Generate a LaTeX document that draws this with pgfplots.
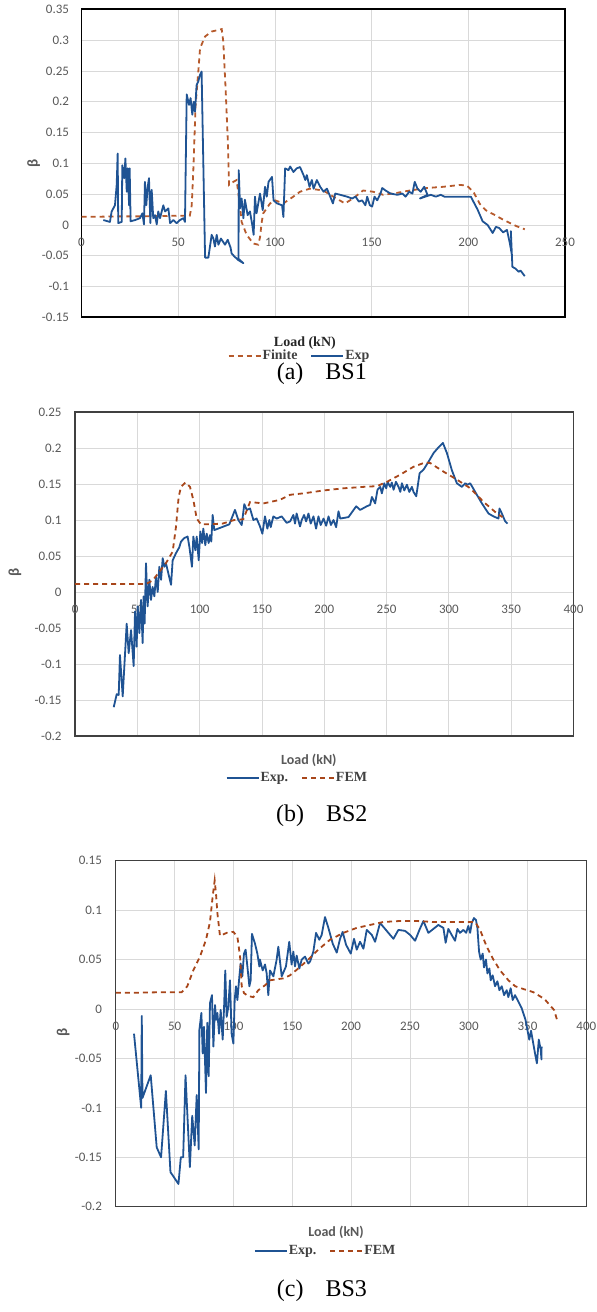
\documentclass[border=0pt]{standalone}
\usepackage{fontspec}
\setmainfont{Liberation Serif}
\newfontfamily\carlito{Carlito}
\usepackage{pgfplots}
\pgfplotsset{compat=1.18}

\definecolor{expc}{HTML}{1F5393}
\definecolor{femc}{HTML}{A8461A}
\definecolor{fina}{HTML}{B65A2C}
\definecolor{gridc}{HTML}{D9D9D9}
\definecolor{tickc}{HTML}{595959}
\definecolor{framec}{HTML}{404040}
\definecolor{legc}{HTML}{404040}

\newcommand\tickf{\carlito\fontsize{13}{15}\selectfont}
\newcommand\legf{\bfseries\fontsize{14}{16}\selectfont}
\newcommand\xlabf{\carlito\bfseries\fontsize{14}{16}\selectfont}
\newcommand\capf{\fontsize{24}{28}\selectfont}

\pgfplotsset{
  bs/.style={
    scale only axis, anchor=north west, xmin=0,
    grid=major, major grid style={draw=gridc, line width=0.8pt},
    major tick length=0pt,
    axis line style={draw=framec, line width=1.2pt},
    tick label style={font=\tickf, text=tickc},
    /pgf/number format/assume math mode=true,
    /pgf/number format/.cd, fixed, precision=2, /pgfplots/.cd,
    scaled ticks=false,
    y tick label style={anchor=east},
    x tick label style={anchor=center},
    ylabel={β}, ylabel style={font=\carlito\bfseries\fontsize{15}{17}\selectfont, text=tickc, anchor=center},
    xlabel={Load (kN)}, xlabel style={font=\xlabf, text=tickc, anchor=center},
    title style={font=\capf, text=black, anchor=center},
    legend style={draw=none, fill=none, font=\legf, text=legc, anchor=center,
      legend columns=2, column sep=0pt, nodes={inner xsep=1pt},
      /tikz/every even column/.append style={column sep=12pt}},
    legend image code/.code={\draw[##1] (0pt,0pt) -- (32pt,0pt);},
  },
  expl/.style={draw=expc, line width=1.8pt, line join=round, no markers},
  feml/.style={draw=femc, line width=1.8pt, dash pattern=on 5pt off 4pt, no markers},
}

\begin{document}
\begin{tikzpicture}
\path[use as bounding box] (0pt,0pt) rectangle (597pt,1312pt);

% (a) BS1
\begin{axis}[bs,
  at={(81.5pt,1302.6pt)}, width=483.5pt, height=308pt,
  xmax=250, ymin=-0.15, ymax=0.35,
  xtick={0,50,...,250},
  ytick={-0.15,-0.1,-0.05,0,0.05,0.1,0.15,0.2,0.25,0.3,0.35},
  axis line style={draw=black, line width=1.8pt},
  x tick label style={yshift=75pt},
  y tick label style={xshift=-9pt},
  ylabel style={at={(axis description cs:-0.099,0.5)}},
  xlabel style={at={(axis description cs:0.462,-0.083)}, font=\bfseries\fontsize{14}{16}\selectfont, text=black!85},
  legend style={at={(axis description cs:0.45,-0.125)}},
  title={(a)\hspace{22pt}BS1}, title style={at={(axis description cs:0.497,-0.203)}},
]
\addplot[feml, draw=fina] coordinates {
(0,0.0135)(10,0.0135)(20,0.014)(30,0.014)(40,0.0145)(50,0.015)(56,0.015)(57,0.032)(57.8,0.087)(59,0.195)
(60.4,0.249)(61.3,0.287)(63.9,0.306)(67.3,0.314)(72.5,0.318)(73.3,0.298)(74.5,0.222)(75.6,0.141)(76.3,0.065)
(78.5,0.070)(80.2,0.073)(81.9,0.032)(82.8,0.005)(85.4,-0.016)(88.8,-0.030)(91.4,-0.032)(92.3,-0.020)(93.2,0.005)
(94.0,0.019)(97.5,0.035)(100.1,0.040)(104.4,0.035)(109.5,0.046)(113,0.054)(118.1,0.059)(125,0.056)(130.2,0.046)
(136.2,0.035)(140.4,0.043)(145.6,0.056)(150.8,0.054)(156,0.049)(162.9,0.052)(169.8,0.056)(178.5,0.060)
(187.1,0.062)(195.7,0.065)(199.2,0.064)(202.6,0.054)(206,0.034)(209,0.024)(213.8,0.016)(217.8,0.009)
(221.6,0.003)(225,-0.002)(229.2,-0.007)
};
\addlegendentry{Finite}
\addplot[expl] coordinates {
(11.3,0.008)(14.7,0.005)(15.6,0.022)(17.3,0.032)(18.2,0.065)(18.7,0.116)(19.0,0.003)(20.8,0.005)(21.1,0.097)
(22.1,0.076)(22.7,0.108)(23.4,0.054)(23.9,0.092)(24.6,0.032)(24.9,0.092)(25.4,0.006)(27.7,0.008)(30.2,0.011)
(31.5,0.019)(32.3,0.001)(32.8,0.070)(33.5,0.032)(34.2,0.061)(34.9,0.076)(35.6,0.003)(36.3,0.057)(37.1,0.011)
(38.0,0.016)(38.9,0.001)(39.7,0.022)(40.6,0.011)(42.3,0.032)(43.2,0.022)(44.9,0.027)(45.8,0.003)(47.5,0.008)
(49.2,0.003)(50.9,0.008)(52.7,0.011)(53.5,0.005)(54.4,0.212)(55.6,0.195)(56.4,0.206)(57.3,0.179)(58.0,0.200)
(58.7,0.184)(59.5,0.227)(60.4,0.233)(61.3,0.244)(62.1,0.249)(63.9,-0.053)(65.6,-0.053)(67.3,-0.016)(68.2,-0.022)
(69.0,-0.035)(69.9,-0.016)(70.8,-0.032)(72.1,-0.022)(74.2,-0.032)(75.6,-0.024)(77.1,-0.037)(77.6,-0.046)
(79.0,-0.051)(81.1,-0.057)(83.7,-0.062)(81.2,-0.055)(81.3,0.089)(82.0,0.027)(82.8,0.043)(83.7,0.011)(84.5,0.041)
(85.9,0.016)(87.1,0.022)(88.3,0.0)(89.0,-0.016)(89.7,0.046)(90.5,0.019)(92.3,0.051)(93.7,0.024)(94.9,0.062)
(95.8,0.046)(96.7,0.070)(98.5,0.078)(99.3,0.040)(101.1,0.035)(103.7,0.032)(104.4,0.013)(105.3,0.092)(107.0,0.089)
(107.9,0.095)(109.6,0.086)(111.3,0.092)(113.0,0.094)(114.8,0.081)(115.7,0.073)(116.5,0.081)(117.9,0.062)
(119.1,0.073)(120.0,0.059)(121.7,0.073)(123.4,0.062)(125.2,0.054)(126.9,0.059)(128.6,0.046)(130.0,0.035)
(131.2,0.051)(133.8,0.049)(137.3,0.046)(139.9,0.043)(141.7,0.046)(143.4,0.038)(145.1,0.040)(146.8,0.032)
(147.7,0.046)(149.1,0.032)(150.3,0.030)(151.5,0.046)(152.9,0.040)(154.6,0.051)(155.5,0.060)(157.2,0.056)
(159.8,0.051)(163.3,0.049)(165.9,0.051)(167.6,0.046)(169.4,0.054)(171.1,0.051)(172.3,0.070)(173.7,0.059)
(175.4,0.054)(177.2,0.062)(178.9,0.049)(175,0.043)(180.6,0.049)(183.2,0.046)(185.8,0.049)(187.6,0.046)
(191.0,0.046)(196.2,0.046)(201.3,0.046)(204.8,0.025)(207.4,0.006)(210,0.0)(212.6,-0.013)(214.3,-0.003)
(216,-0.005)(218,-0.012)(220,-0.008)(221.5,-0.030)(222.5,-0.048)(222,-0.010)(222.8,-0.068)(224.5,-0.071)
(226,-0.076)(227,-0.074)(229.2,-0.083)
};
\addlegendentry{Exp}
\end{axis}

% (b) BS2
\begin{axis}[bs,
  at={(75.1pt,900pt)}, width=498.4pt, height=324pt,
  xmax=400, ymin=-0.2, ymax=0.25,
  xtick={0,50,...,400},
  ytick={-0.2,-0.15,-0.1,-0.05,0,0.05,0.1,0.15,0.2,0.25},
  x tick label style={yshift=127pt},
  y tick label style={xshift=-10pt},
  ylabel style={at={(axis description cs:-0.121,0.506)}},
  xlabel style={at={(axis description cs:0.469,-0.074)}},
  legend style={at={(axis description cs:0.445,-0.130)}},
  title={(b)\hspace{22pt}BS2}, title style={at={(axis description cs:0.495,-0.265)}},
]
\addplot[expl] coordinates {
(31.0,-0.160)(33.4,-0.142)(35.0,-0.143)(36.0,-0.0875)(38.2,-0.145)(41.4,-0.044)(43.0,-0.085)(44.9,-0.053)
(47.0,-0.103)(48.1,-0.027)(49.4,-0.076)(50.2,-0.020)(51.6,-0.057)(52.9,-0.011)(54.2,-0.071)(55.0,-0.006)
(55.8,-0.044)(56.9,0.040)(58.2,-0.020)(59.6,0.017)(60.9,-0.011)(62.2,0.007)(63.6,-0.006)(64.9,0.021)(66.3,0.0)
(67.6,0.035)(69.0,0.017)(70.3,0.047)(71.6,0.035)(72.9,0.040)(77.0,0.010)(78.3,0.044)(81.0,0.054)(83.6,0.062)
(85.0,0.070)(87.7,0.075)(90.3,0.077)(91.7,0.063)(93.8,0.035)(94.9,0.077)(96.5,0.058)(97.6,0.077)(99.2,0.044)
(100.5,0.084)(101.9,0.068)(102.9,0.088)(104.5,0.065)(105.6,0.081)(107.2,0.068)(108.3,0.079)(109.3,0.070)
(110.4,0.107)(111.7,0.086)(123.8,0.094)(128.3,0.114)(131,0.100)(133.7,0.093)(135.8,0.122)(137.7,0.114)
(140.4,0.116)(143.1,0.100)(145.7,0.102)(148.4,0.091)(150.3,0.081)(152.4,0.105)(154.3,0.088)(155.9,0.100)
(157.0,0.090)(159.1,0.105)(161.8,0.102)(165.8,0.105)(169.8,0.096)(172.5,0.098)(175.2,0.107)(176.5,0.095)
(177.8,0.109)(180.5,0.091)(181.9,0.100)(183.8,0.107)(185.4,0.098)(187.3,0.109)(189.1,0.095)(191.3,0.105)
(193.4,0.088)(195.3,0.105)(197.1,0.093)(199.4,0.102)(201.5,0.092)(203.4,0.105)(205.3,0.093)(207.4,0.100)
(209.5,0.090)(211.4,0.112)(212.8,0.102)(219.4,0.104)(225.6,0.119)(228.8,0.114)(234.1,0.119)(236.8,0.121)
(238.2,0.132)(240.8,0.123)(242.7,0.142)(244.9,0.146)(246.2,0.137)(248.1,0.151)(249.7,0.144)(250.8,0.153)
(252.9,0.146)(254.2,0.152)(255.6,0.142)(257.5,0.153)(259.6,0.146)(261,0.139)(262.3,0.151)(264.2,0.141)
(266.3,0.149)(268.2,0.139)(270.3,0.146)(271.6,0.139)(273.8,0.133)(276.5,0.165)(279.7,0.170)(283.7,0.181)
(287.7,0.193)(291.7,0.201)(295.2,0.207)(298.4,0.193)(302.4,0.169)(306.4,0.151)(310.4,0.146)(313.1,0.151)
(315,0.149)(317.1,0.151)(321.1,0.139)(326.5,0.123)(331.8,0.109)(335.8,0.105)(339.8,0.102)(340.6,0.116)
(342.5,0.109)(345.2,0.098)(347,0.095)
};
\addlegendentry{Exp.}
\addplot[feml] coordinates {
(0,0.011)(20,0.011)(40,0.011)(56.9,0.011)(62.2,0.016)(67.6,0.028)(72.9,0.040)(78.3,0.056)(81.0,0.091)
(83.1,0.132)(85.0,0.146)(88.5,0.152)(92.2,0.146)(94.9,0.128)(97.6,0.102)(101.0,0.094)(107.7,0.094)
(118.4,0.095)(127.8,0.100)(135,0.101)(140.4,0.125)(151.1,0.123)(164.5,0.128)(172.6,0.135)(183.3,0.137)
(199.4,0.141)(215.4,0.144)(231.5,0.146)(242.2,0.147)(250.3,0.153)(261,0.163)(271.7,0.174)(281.1,0.180)
(285.1,0.179)(295.8,0.167)(306.5,0.156)(317.2,0.144)(327.9,0.125)(338.6,0.109)(343,0.104)
};
\addlegendentry{FEM}
\end{axis}

% (c) BS3
\begin{axis}[bs,
  at={(115.9pt,451.3pt)}, width=470.4pt, height=346pt,
  xmax=400, ymin=-0.2, ymax=0.15,
  xtick={0,50,...,400},
  ytick={-0.2,-0.15,-0.1,-0.05,0,0.05,0.1,0.15},
  x tick label style={yshift=180pt},
  y tick label style={xshift=-10.5pt},
  ylabel style={at={(axis description cs:-0.112,0.505)}},
  xlabel style={at={(axis description cs:0.468,-0.073)}},
  legend style={at={(axis description cs:0.445,-0.128)}},
  title={(c)\hspace{22pt}BS3}, title style={at={(axis description cs:0.438,-0.261)}},
]
\addplot[expl] coordinates {
(15.4,-0.025)(21.5,-0.100)(22.0,-0.007)(22.6,-0.090)(29.6,-0.067)(34.7,-0.140)(38.4,-0.150)(42.5,-0.083)
(46.4,-0.165)(53.2,-0.177)(55.2,-0.150)(57.2,-0.150)(59.2,-0.067)(62.9,-0.160)(64.9,-0.108)(67.0,-0.138)
(68.7,-0.087)(70.4,-0.142)(71.0,-0.021)(72.7,-0.004)(73.8,-0.045)(74.9,-0.018)(76.6,-0.085)(77.7,-0.014)
(78.9,-0.068)(80.0,0.006)(81.7,0.014)(82.9,-0.038)(84.3,0.004)(85.2,-0.011)(86.3,-0.004)(87.7,-0.025)
(89.1,-0.001)(90.8,-0.031)(92.0,0.002)(93.0,0.039)(94.2,-0.008)(95.6,0.002)(97.0,0.029)(98.4,-0.025)
(99.9,-0.035)(101.0,0.009)(102.1,0.023)(103.3,0.009)(105.0,0.033)(106.1,0.046)(107.5,0.033)(108.9,0.056)
(110.3,0.060)(111.8,0.043)(113.5,0.023)(114.6,0.029)(115.7,0.076)(118.3,0.066)(120.3,0.056)(122.0,0.043)
(122.5,0.050)(124.8,0.039)(126.8,0.045)(128.2,0.036)(129.6,0.014)(131.0,0.039)(133.9,0.033)(136.7,0.050)
(138.1,0.063)(141.0,0.033)(144.6,0.043)(147.4,0.068)(149.4,0.045)(150.9,0.058)(152.3,0.043)(153.7,0.054)
(156.0,0.041)(158.0,0.050)(160.8,0.053)(163.6,0.046)(165.1,0.048)(167.9,0.058)(170.2,0.077)(173.0,0.070)
(175.0,0.075)(177.8,0.093)(180.7,0.082)(184.4,0.066)(187.8,0.057)(190.6,0.071)(192.8,0.078)(195.7,0.065)
(199.7,0.056)(202.5,0.071)(204.8,0.060)(207.6,0.068)(210.5,0.061)(213.3,0.080)(217.6,0.075)(220.4,0.068)
(224.6,0.087)(228.9,0.081)(231.7,0.077)(236.0,0.071)(240.2,0.080)(245.9,0.079)(250.1,0.075)(254.4,0.069)
(258.1,0.080)(261.5,0.089)(265.7,0.077)(270,0.081)(274.2,0.085)(278.5,0.082)(280.4,0.067)(282.7,0.081)
(285.5,0.075)(288.4,0.069)(290.4,0.081)(292.6,0.077)(295.5,0.080)(297.8,0.077)(299.7,0.084)(301.2,0.077)
(302.6,0.087)(304.5,0.092)(306.2,0.090)(307.4,0.082)(308.8,0.058)(310.2,0.050)(311.9,0.056)(313.0,0.042)
(314.7,0.050)(315.9,0.036)(317.6,0.041)(318.7,0.029)(320.4,0.034)(322.4,0.023)(324.4,0.028)(326.1,0.019)
(328.1,0.023)(330.1,0.014)(332.3,0.019)(333.7,0.012)(335.7,0.021)(337.4,0.009)(339.4,0.014)(342,0.008)
(345,0.001)(348.3,-0.011)(351.5,-0.031)(353,-0.022)(356.4,-0.045)(358.0,-0.055)(359.6,-0.031)(361.2,-0.041)
(361.9,-0.051)(362,-0.038)
};
\addlegendentry{Exp.}
\addplot[feml] coordinates {
(0,0.0165)(20,0.0165)(40,0.017)(56,0.017)(60.7,0.023)(65.8,0.039)(71.5,0.053)(76.6,0.070)(80.0,0.088)
(82.3,0.114)(84.0,0.130)(85.1,0.117)(86.3,0.097)(88.5,0.074)(94.2,0.077)(99.9,0.078)(103.3,0.073)(105.6,0.053)
(107.0,0.023)(109.0,0.016)(112.6,0.013)(116.9,0.012)(121.1,0.019)(126.8,0.024)(131.0,0.029)(142.4,0.031)
(148.0,0.034)(155.1,0.041)(163.6,0.050)(172.1,0.060)(182,0.070)(193.4,0.077)(204.7,0.082)(216.1,0.085)
(227.4,0.088)(241.6,0.089)(255.8,0.089)(270,0.088)(284.1,0.088)(298.3,0.088)(305.4,0.088)(309.7,0.080)
(315.3,0.063)(321,0.050)(326.7,0.039)(333.8,0.029)(339.5,0.023)(347,0.020)(355,0.017)(364.5,0.010)
(372.6,-0.001)(375.9,-0.014)
};
\addlegendentry{FEM}
\end{axis}
\end{tikzpicture}
\end{document}
